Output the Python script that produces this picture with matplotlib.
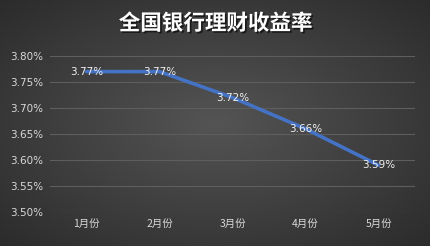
import numpy as np
import matplotlib.pyplot as plt
import matplotlib.patheffects as pe

plt.rcParams['font.family'] = ['Noto Sans CJK SC', 'DejaVu Sans']

months = ['1月份', '2月份', '3月份', '4月份', '5月份']
rates = [3.77, 3.77, 3.72, 3.66, 3.59]
yticks = [3.50, 3.55, 3.60, 3.65, 3.70, 3.75, 3.80]

fig = plt.figure(figsize=(4.31, 2.46), dpi=100)

# radial gradient background
bg = fig.add_axes([0, 0, 1, 1])
gx, gy = np.meshgrid(np.linspace(-1, 1, 431), np.linspace(-1, 1, 246))
r = np.clip(np.sqrt(gx**2 + gy**2) / 1.414, 0, 1)
shade = 0.33 - 0.16 * r
bg.imshow(np.dstack([shade, shade, shade]), aspect='auto', extent=[0, 1, 0, 1])
bg.axis('off')

ax = fig.add_axes([50 / 431, 34 / 246, 365 / 431, 156 / 246])
ax.patch.set_alpha(0)
x = np.arange(len(months))
ax.plot(x, rates, color='#4472C4', linewidth=2.6, solid_capstyle='round')
for xi, v in zip(x, rates):
    ax.text(xi, v, f'{v:.2f}%', ha='center', va='center', color='#f2f2f2', fontsize=7.5,
            family='DejaVu Sans')

ax.set_xlim(-0.5, len(months) - 0.5)
ax.set_ylim(3.50, 3.80)
ax.set_yticks(yticks)
ax.set_yticklabels([f'{t:.2f}%' for t in yticks], color='#d9d9d9', fontsize=7.5,
                   family='DejaVu Sans')
ax.set_xticks(x)
ax.set_xticklabels(months, color='#d9d9d9', fontsize=7.5)
ax.tick_params(length=0, pad=5)
ax.grid(axis='y', color='#5e5e5e', linewidth=0.8)
for s in ax.spines.values():
    s.set_visible(False)

fig.text(0.5, 0.905, '全国银行理财收益率', ha='center', va='center', color='white',
         fontsize=15.5, fontweight='bold',
         path_effects=[pe.withSimplePatchShadow(offset=(1.2, -1.2), shadow_rgbFace='black', alpha=0.6)])

fig.savefig('out.png', dpi=100)
